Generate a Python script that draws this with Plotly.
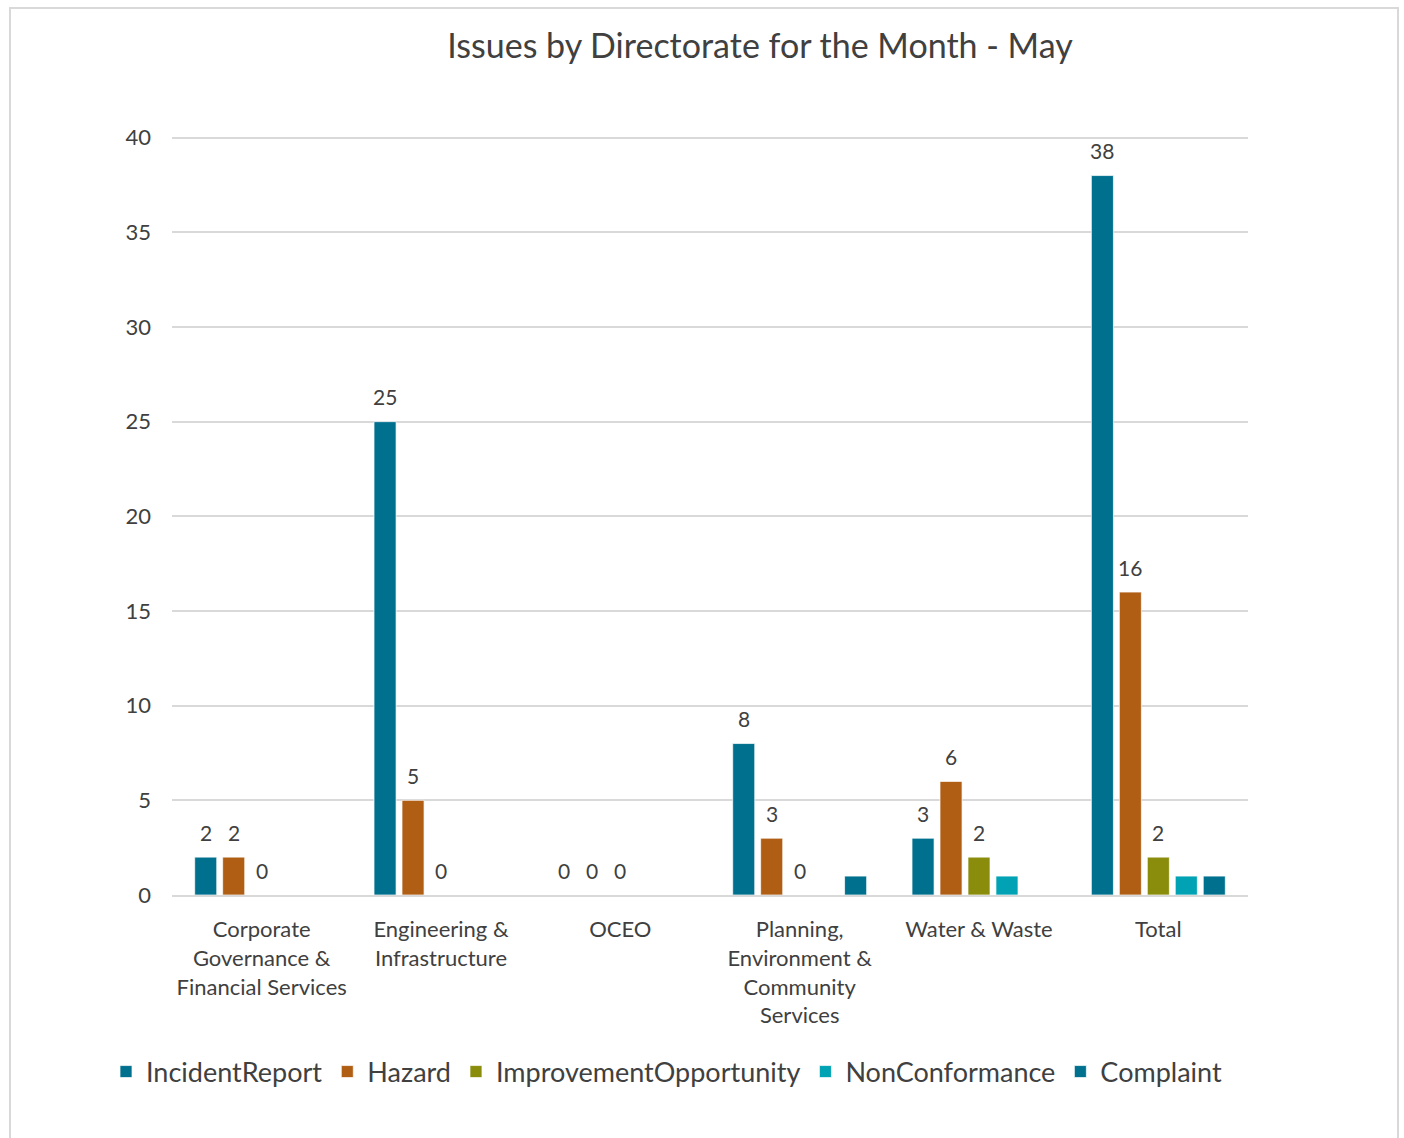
import plotly.graph_objects as go

# Directorates shown along the category axis
categories = [
    "Corporate<br>Governance &<br>Financial Services",
    "Engineering &<br>Infrastructure",
    "OCEO",
    "Planning,<br>Environment &<br>Community<br>Services",
    "Water & Waste",
    "Total",
]

# Issue counts per type (None = no entry for that directorate)
incident_report = [2, 25, 0, 8, 3, 38]
hazard = [2, 5, 0, 3, 6, 16]
improvement_opportunity = [0, 0, 0, 0, 2, 2]
non_conformance = [None, None, None, None, 1, 1]
complaint = [None, None, None, 1, None, 1]

y_ticks = [0, 5, 10, 15, 20, 25, 30, 35, 40]

FONT = "Lato, 'Open Sans', sans-serif"
TEXT = "#404040"

series = [
    ("IncidentReport", incident_report, "#00708F", True),
    ("Hazard", hazard, "#B05E14", True),
    ("ImprovementOpportunity", improvement_opportunity, "#8A8C0C", True),
    ("NonConformance", non_conformance, "#00A2B3", False),
    ("Complaint", complaint, "#00708F", False),
]

# Grouped bar geometry in category units (one category = 1.0)
SLOT = 0.156
BAR_W = 0.123
n_series = len(series)

fig = go.Figure()
annotations = []
for i, (name, vals, color, labelled) in enumerate(series):
    centre = (i - (n_series - 1) / 2) * SLOT
    fig.add_trace(go.Bar(
        name=name,
        x=categories,
        y=vals,
        width=BAR_W,
        offset=centre - BAR_W / 2,
        marker=dict(color=color, line=dict(color="rgba(255,255,255,0.7)", width=1)),
    ))
    if labelled:
        for j, v in enumerate(vals):
            if v is None:
                continue
            annotations.append(dict(
                x=j + centre, y=v, xref="x", yref="y",
                text=str(v), showarrow=False,
                yanchor="middle", yshift=25,
                font=dict(family=FONT, size=21, color=TEXT),
            ))

W, H = 1404, 1138
Y_MAX = 40.3
L, R, B = 172, 156, 243
T = round(H - B - (H - B - 138) * Y_MAX / 40)
pw, ph = W - L - R, H - T - B

def px(x):
    return (x - L) / pw

def py(y):
    return (H - B - y) / ph

fig.update_layout(
    width=W,
    height=H,
    margin=dict(l=L, r=R, t=T, b=B, autoexpand=False),
    paper_bgcolor="white",
    plot_bgcolor="white",
    barmode="overlay",
    font=dict(family=FONT, color=TEXT),
    title=dict(
        text="Issues by Directorate for the Month - May",
        font=dict(family=FONT, size=34, color=TEXT),
        x=760 / W,
        xanchor="center",
        y=1 - 46 / H,
        yanchor="middle",
    ),
    showlegend=True,
    legend=dict(
        orientation="h",
        x=px(106),
        xanchor="left",
        y=py(1072),
        yanchor="middle",
        font=dict(family=FONT, size=27, color=TEXT),
        itemwidth=30,
        traceorder="normal",
    ),
    annotations=annotations,
    shapes=[
        dict(
            type="rect",
            xref="paper", yref="paper",
            x0=px(10), x1=px(1398),
            y0=py(1160), y1=py(8),
            line=dict(color="#D9D9D9", width=2),
            fillcolor="rgba(0,0,0,0)",
            layer="below",
        )
    ],
)

fig.update_xaxes(
    type="category",
    showgrid=False,
    showline=True,
    linecolor="#D9D9D9",
    linewidth=2,
    ticks="",
    tickfont=dict(family=FONT, size=22, color=TEXT),
    ticklabelstandoff=14,
)
fig.update_yaxes(
    range=[0, Y_MAX],
    tickvals=y_ticks,
    showgrid=True,
    gridcolor="#D9D9D9",
    gridwidth=1.5,
    zeroline=False,
    showline=False,
    ticks="",
    tickfont=dict(family=FONT, size=22, color=TEXT),
    ticklabelstandoff=20,
)

fig.write_html("out.html")
